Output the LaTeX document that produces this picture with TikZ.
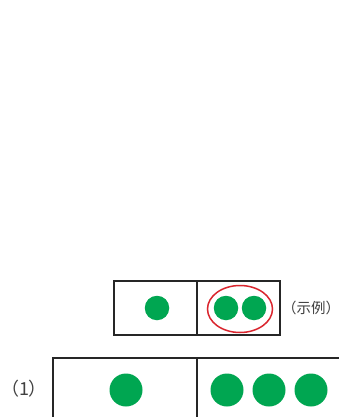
\documentclass[tikz,border=0pt]{standalone}
\usepackage{fontspec}
\newfontfamily\cjk{Noto Sans CJK SC}
\usepackage{xcolor}
\usepackage{tikz}
\usetikzlibrary{shapes.geometric}
\definecolor{dotgreen}{RGB}{0,166,81}
\definecolor{ringred}{RGB}{218,37,46}

\begin{document}
\begin{tikzpicture}[x=1pt, y=-1pt,
        dot/.style={circle, fill=dotgreen, inner sep=0pt},
        cell/.style={draw=black!85, line width=1.6pt}]
            \clip (0, 0) rectangle (339, 417);
            \fill[white] (0, 0) rectangle (339, 417);

            % example row
            \draw[cell] (114, 281) rectangle (280, 335);
            \draw[cell] (197, 281) -- (197, 335);
            \node (e0) at (157, 308) [dot, minimum size=24.5pt] {};
            \foreach \i/\x in {1/226, 2/254} {
                \node (e\i) at (\x, 308) [dot, minimum size=24.5pt] {};
            }
            \node (ring) at (240, 309) [ellipse, draw=ringred, line width=1.5pt,
                minimum width=65pt, minimum height=47pt] {};
            \node (tag) at (311, 308) [text=black!75] {\cjk\fontsize{14.5pt}{14.5pt}\selectfont （示例）};

            % task (1)
            \draw[cell] (53, 358) rectangle (360, 440);
            \draw[cell] (197, 358) -- (197, 417);
            \node (a0) at (126, 390) [dot, minimum size=33pt] {};
            \foreach \i/\x in {1/227, 2/269, 3/311} {
                \node (a\i) at (\x, 390) [dot, minimum size=33pt] {};
            }
            \node (num) at (24, 389) [text=black!75] {\cjk\fontsize{18pt}{18pt}\selectfont （1）};
        \end{tikzpicture}
\end{document}
